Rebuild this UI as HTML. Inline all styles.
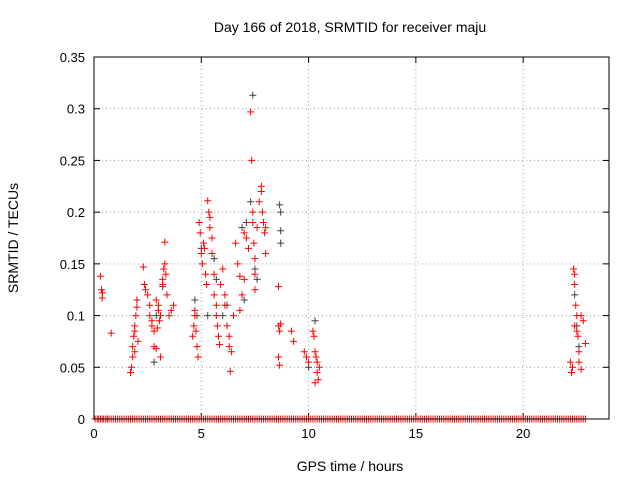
<!DOCTYPE html>
<html><head><meta charset="utf-8"><style>
body{margin:0;background:#fff;}
svg{display:block;font-family:"Liberation Sans",sans-serif;}
</style></head><body>
<svg id="c" width="640" height="480"></svg>
<script>
const xTicks=[0,5,10,15,20];
const yTicks=[0,0.05,0.1,0.15,0.2,0.25,0.3,0.35];
const yTickLabels=["0","0.05","0.1","0.15","0.2","0.25","0.3","0.35"];
const redPts=[[0.3,0.138],[0.35,0.125],[0.4,0.122],[0.38,0.117],[0.8,0.083],
[1.7,0.045],[1.75,0.05],[1.8,0.06],[1.8,0.07],[1.85,0.08],[1.9,0.085],[1.9,0.09],[1.95,0.1],[2.0,0.108],[2.0,0.115],[1.9,0.065],[2.05,0.075],
[2.3,0.147],[2.35,0.13],[2.4,0.125],[2.5,0.12],[2.6,0.11],[2.6,0.1],[2.7,0.09],[2.7,0.095],[2.8,0.085],[2.8,0.07],[2.9,0.068],[2.9,0.115],[3.0,0.105],[3.0,0.11],[3.1,0.1],[3.1,0.06],[3.2,0.13],[3.2,0.135],[3.25,0.145],[3.3,0.15],[3.3,0.171],[3.35,0.14],[3.4,0.12],[3.5,0.1],[3.6,0.105],[3.7,0.11],[2.95,0.088],[3.05,0.095],
[4.6,0.08],[4.65,0.09],[4.7,0.1],[4.7,0.105],[4.75,0.085],[4.8,0.07],[4.85,0.06],[4.9,0.19],[4.95,0.18],[5.0,0.16],[5.05,0.15],[5.1,0.17],[5.15,0.165],[5.2,0.14],[5.25,0.13],[5.3,0.211],[5.35,0.2],[5.4,0.195],[5.4,0.185],[5.5,0.175],[5.5,0.16],[5.6,0.14],[5.6,0.12],[5.7,0.11],[5.7,0.1],[5.75,0.09],[5.8,0.08],[5.85,0.072],[5.9,0.13],[6.0,0.145],[6.1,0.12],[6.1,0.11],[6.2,0.09],[6.3,0.08],[6.3,0.07],[6.35,0.046],[6.4,0.065],[6.5,0.1],[6.6,0.17],[6.7,0.15],[6.8,0.138],[6.8,0.105],[6.9,0.12],[7.0,0.135],[7.0,0.18],[7.1,0.175],[7.2,0.165],[7.3,0.297],[7.35,0.25],[7.4,0.2],[7.4,0.19],[7.45,0.17],[7.5,0.155],[7.5,0.14],[7.5,0.125],[7.6,0.185],[7.7,0.21],[7.8,0.225],[7.8,0.22],[7.85,0.2],[7.9,0.19],[7.95,0.18],[8.0,0.185],[8.0,0.16],
[8.6,0.128],[8.6,0.09],[8.65,0.085],[8.6,0.06],[8.65,0.052],[8.7,0.092],[9.2,0.085],[9.3,0.075],[9.8,0.065],[9.9,0.06],[10.0,0.055],[10.2,0.085],[10.25,0.08],[10.3,0.065],[10.35,0.06],[10.4,0.055],[10.4,0.045],[10.45,0.038],[10.3,0.035],[10.5,0.05],
[22.2,0.055],[22.25,0.045],[22.3,0.05],[22.35,0.145],[22.4,0.14],[22.4,0.13],[22.45,0.11],[22.5,0.1],[22.5,0.085],[22.55,0.08],[22.6,0.065],[22.6,0.055],[22.7,0.048],[22.7,0.1],[22.8,0.095],[22.9,0.073],[22.4,0.09]];
const blackPts=[[2.8,0.055],[2.9,0.1],[3.2,0.128],[4.7,0.115],[4.8,0.1],[5.0,0.165],[5.3,0.1],[5.6,0.155],[5.7,0.135],[6.0,0.1],[6.2,0.11],[7.0,0.115],[7.1,0.19],[7.4,0.313],[7.5,0.145],[7.6,0.135],[8.65,0.207],[8.7,0.2],[8.7,0.182],[8.7,0.17],[10.0,0.05],[10.3,0.095],[22.4,0.12],[22.5,0.09],[22.6,0.07],[6.9,0.185],[7.3,0.21]];
const zeroTimes=[0.05,0.15,0.22,0.3,0.38,0.45,0.55,0.62,0.7,0.8,0.9,1.0,1.1,1.2,1.3,1.4,1.5,1.6,1.7,1.8,1.9,2.0,2.1,2.2,2.3,2.4,2.5,2.6,2.7,2.8,2.9,3.0,3.1,3.2,3.3,3.4,3.5,3.6,3.7,3.8,3.9,4.0,4.1,4.2,4.3,4.4,4.5,4.6,4.7,4.8,4.9,5.0,5.1,5.2,5.3,5.4,5.5,5.6,5.7,5.8,5.9,6.0,6.1,6.2,6.3,6.4,6.5,6.6,6.7,6.8,6.9,7.0,7.1,7.2,7.3,7.4,7.5,7.6,7.7,7.8,7.9,8.0,8.1,8.2,8.3,8.4,8.5,8.6,8.7,8.8,8.9,9.0,9.1,9.2,9.3,9.4,9.5,9.6,9.7,9.8,9.9,10.0,10.1,10.2,10.3,10.4,10.5,10.6,10.7,10.8,10.9,11.0,11.1,11.2,11.3,11.4,11.5,11.6,11.7,11.8,11.9,12.0,12.1,12.2,12.3,12.4,12.5,12.6,12.7,12.8,12.9,13.0,13.1,13.2,13.3,13.4,13.5,13.6,13.7,13.8,13.9,14.0,14.1,14.2,14.3,14.4,14.5,14.6,14.7,14.8,14.9,15.0,15.1,15.2,15.3,15.4,15.5,15.6,15.7,15.8,15.9,16.0,16.1,16.2,16.3,16.4,16.5,16.6,16.7,16.8,16.9,17.0,17.1,17.2,17.3,17.4,17.5,17.6,17.7,17.8,17.9,18.0,18.1,18.2,18.3,18.4,18.5,18.6,18.7,18.8,18.9,19.0,19.1,19.2,19.3,19.4,19.5,19.6,19.7,19.8,19.9,20.0,20.1,20.2,20.3,20.4,20.5,20.6,20.7,20.8,20.9,21.0,21.1,21.2,21.3,21.4,21.5,21.6,21.7,21.8,21.9,22.0,22.1,22.2,22.3,22.4,22.5,22.6,22.7,22.8,22.9];

const L=94,R=609,T=57,B=419,XMAX=24,YMAX=0.35;
const sx=v=>L+v/XMAX*(R-L), sy=v=>B-v/YMAX*(B-T);
const svg=document.getElementById('c');
const NS='http://www.w3.org/2000/svg';
function mk(tag,attrs,parent){const e=document.createElementNS(NS,tag);for(const k in attrs)e.setAttribute(k,attrs[k]);(parent||svg).appendChild(e);return e;}
const grid=mk('g',{});


xTicks.forEach(t=>{if(t>0)mk('line',{x1:sx(t),x2:sx(t),y1:T,y2:B,stroke:'#a0a0a0','stroke-dasharray':'1,3'},grid);});
yTicks.forEach(t=>{if(t>0&&t<YMAX)mk('line',{x1:L,x2:R,y1:sy(t),y2:sy(t),stroke:'#a0a0a0','stroke-dasharray':'1,3'},grid);});
const ax=mk('g',{});


xTicks.forEach(t=>{mk('line',{x1:sx(t),x2:sx(t),y1:B,y2:B-6,stroke:'#000'},ax);mk('line',{x1:sx(t),x2:sx(t),y1:T,y2:T+6,stroke:'#000'},ax);
 const tx=mk('text',{x:sx(t),y:B+19,'text-anchor':'middle','font-size':13},ax);tx.textContent=t;});
yTicks.forEach((t,i)=>{mk('line',{x1:L,x2:L+6,y1:sy(t),y2:sy(t),stroke:'#000'},ax);mk('line',{x1:R,x2:R-6,y1:sy(t),y2:sy(t),stroke:'#000'},ax);
 const tx=mk('text',{x:L-9,y:sy(t)+5,'text-anchor':'end','font-size':13},ax);tx.textContent=yTickLabels[i];});
function plus(g,x,y,c){mk('path',{d:`M${x-3.5},${y}h7M${x},${y-3.5}v7`,stroke:c,'stroke-width':1},g);}
const zg=mk('g',{});


zeroTimes.forEach(t=>plus(zg,sx(t),sy(0),'#ff0000'));
const bg=mk('g',{});


blackPts.forEach(p=>plus(bg,sx(p[0]),sy(p[1]),'#404040'));
const rg=mk('g',{});


redPts.forEach(p=>plus(rg,sx(p[0]),sy(p[1]),'#ff0000'));
const fr=mk('rect',{x:L,y:T,width:R-L,height:B-T,fill:'none',stroke:'#000'});


const ti=mk('text',{x:350,y:32,'text-anchor':'middle','font-size':14});
ti.textContent='Day 166 of 2018, SRMTID for receiver maju';


const xl=mk('text',{x:350,y:471,'text-anchor':'middle','font-size':14});
xl.textContent='GPS time / hours';


const yl=mk('text',{x:0,y:0,'text-anchor':'middle','font-size':14,transform:'translate(18,238) rotate(-90)'});
yl.textContent='SRMTID / TECUs';


</script>
</body></html>
